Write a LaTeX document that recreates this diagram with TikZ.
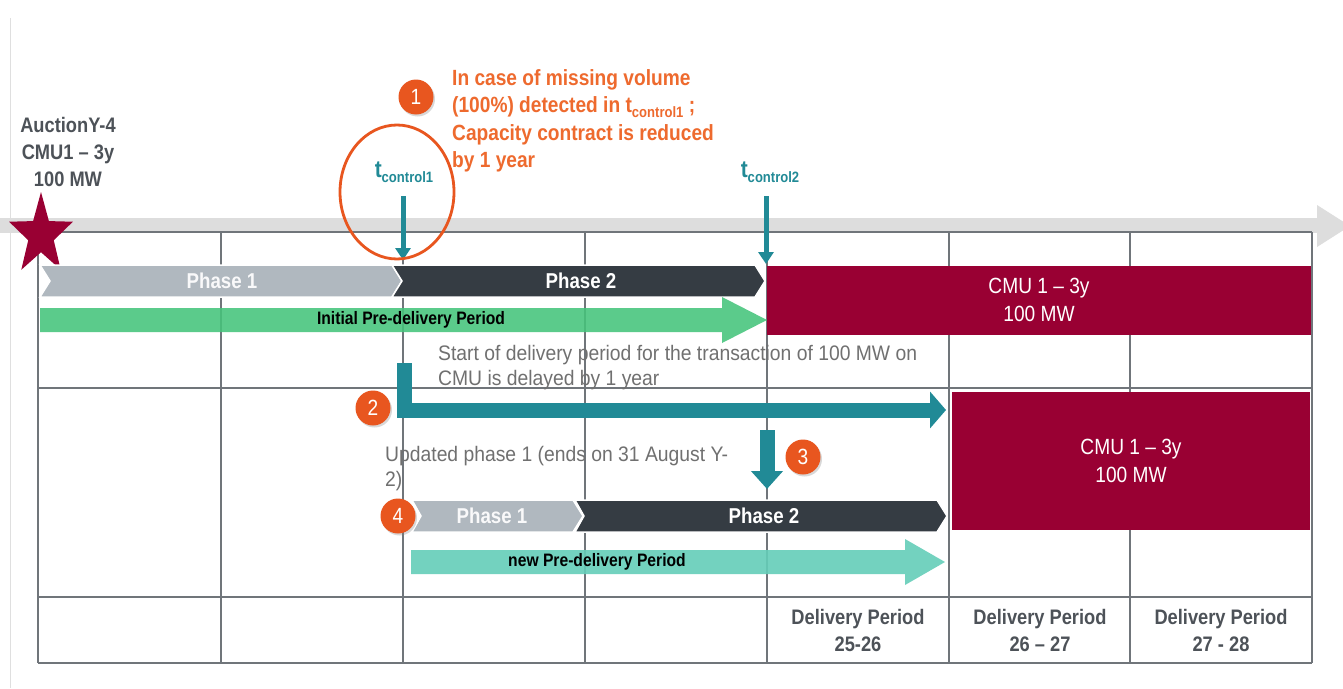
\documentclass[tikz,border=0pt]{standalone}
\usepackage{fontspec}
\setmainfont{Liberation Sans}[FakeStretch=0.87]
\newfontfamily\notefont{Liberation Sans}[FakeStretch=0.92]
\usetikzlibrary{arrows.meta,shapes.geometric,shadows}
\definecolor{cmured}{HTML}{990033}
\definecolor{tealc}{HTML}{218A96}
\definecolor{badgec}{HTML}{E8561F}
\definecolor{orangetxt}{HTML}{EE6A2E}
\definecolor{darkchev}{HTML}{353C43}
\definecolor{lightchev}{HTML}{B0B8BF}
\definecolor{greenc}{HTML}{45C47B}
\definecolor{mintc}{HTML}{64CEB9}
\definecolor{gridc}{HTML}{70757A}
\definecolor{timec}{HTML}{DDDDDD}
\definecolor{darktxt}{HTML}{4D5258}
\definecolor{graytxt}{HTML}{707070}
\newcommand\myfs[2]{\fontsize{#1}{#2}\selectfont}
\newcommand\mysub[1]{\raisebox{-5pt}{\myfs{15}{15}#1}}
\tikzset{
  gridline/.style={draw=gridc, line width=1.6},
  badge/.style={circle, fill=badgec, text=white, minimum size=35, inner sep=0,
    font=\myfs{22}{22}, drop shadow={opacity=0.3, shadow xshift=1.5pt, shadow yshift=-2pt}},
  tlabel/.style={text=tealc, font=\myfs{24}{24}\bfseries, inner sep=0},
  tarrow/.style={draw=tealc, line width=5, -{Triangle[width=15pt,length=12pt]}},
  bigarrow/.style={draw=tealc, line width=15, -{Triangle[width=36pt,length=16pt]}},
  cmubox/.style={fill=cmured, text=white, font=\myfs{22}{28}, align=center, inner sep=0},
  phasetext/.style={font=\myfs{21.5}{21.5}\bfseries, inner sep=0},
  chevdark/.style={fill=darkchev, draw=white, line width=1.5},
  chevlight/.style={fill=lightchev, draw=white, line width=1.5},
  bartext/.style={font=\myfs{18}{18}\bfseries, text=black, inner sep=0},
  notetext/.style={font=\notefont\myfs{21}{25}, text=graytxt, align=left, inner sep=0},
  deltext/.style={font=\myfs{21}{27}\bfseries, text=darktxt, align=center, inner sep=0},
}
\begin{document}
\begin{tikzpicture}[x=1pt,y=-1pt]
\useasboundingbox (0,0) rectangle (1343,688);
\fill[white] (0,0) rectangle (1343,688);
% faint left line
\draw[gray!25, line width=1] (10,18) -- (10,688);
% timeline
\fill[timec] (0,218) rectangle (1318,233);
\fill[timec] (1317,205) -- (1350,226) -- (1317,247) -- cycle;
% grid
\foreach \x in {38,221,403,585,767,949,1130,1312}
  \draw[gridline] (\x,232) -- (\x,663);
\foreach \y in {232,388,597,663}
  \draw[gridline] (38,\y) -- (1312,\y);
% star
\node[star, star points=5, star point ratio=2.5, fill=cmured, minimum size=86, inner sep=0, xscale=0.78, transform shape] (star) at (41,235) {};
\node[font=\myfs{21}{27}\bfseries, text=darktxt, align=center, inner sep=0] (auction) at (68,152) {AuctionY-4\\CMU1 -- 3y\\100 MW};
% top chevrons
\filldraw[chevlight] (40,265) -- (392,265) -- (402,281) -- (392,297) -- (40,297) -- (50,281) -- cycle;
\filldraw[chevdark] (392,265) -- (755,265) -- (765,281) -- (755,297) -- (392,297) -- (402,281) -- cycle;
\node[phasetext, text=white!92!lightchev] (p1a) at (222,281) {Phase 1};
\node[phasetext, text=white] (p2a) at (581,281) {Phase 2};
% green arrow
\fill[greenc, fill opacity=0.88] (40,308) -- (722,308) -- (722,297) -- (767,320) -- (722,343) -- (722,332) -- (40,332) -- cycle;
\node[bartext] (initp) at (411,320) {Initial Pre-delivery Period};
% CMU box 1
\node[cmubox, minimum width=544, minimum height=69] (cmu1) at (1039,300) {CMU 1 -- 3y\\100 MW};
% t control
\node[tlabel] (tc1) at (404,172) {t\mysub{control1}};
\node[tlabel] (tc2) at (770,172) {t\mysub{control2}};
\coordinate (tc1end) at (403,260);
\coordinate (tc2end) at (766,264);
\draw[tarrow] (403,196) -- (tc1end);
\draw[tarrow] (766,196) -- (tc2end);
% orange circle and note
\draw[badgec, line width=2.8] (397,192) ellipse [x radius=57, y radius=67];
\node[badge] (b1) at (416,97) {1};
\node[font=\myfs{22}{27.5}\bfseries, text=orangetxt, align=left, inner sep=0, anchor=west] (note1) at (452,121)
  {In case of missing volume\\(100\%) detected in t\mysub{control1} ;\\Capacity contract is reduced\\by 1 year};
% delayed text
\node[notetext, anchor=west] (note2) at (438,368) {Start of delivery period for the transaction of 100 MW on\\CMU is delayed by 1 year};
% arrow 2
\coordinate (a2start) at (404.5,363);
\coordinate (a2end) at (946,410);
\draw[bigarrow] (a2start) |- (a2end);
\node[badge] (b2) at (373,408) {2};
% CMU box 2
\node[cmubox, minimum width=358, minimum height=138] (cmu2) at (1131,461) {CMU 1 -- 3y\\100 MW};
% arrow 3
\coordinate (a3start) at (767,430);
\coordinate (a3end) at (767,489);
\draw[draw=tealc, line width=15, -{Triangle[width=31pt,length=18pt]}] (a3start) -- (a3end);
\node[badge] (b3) at (803,457) {3};
% updated phase text
\node[notetext, anchor=west] (note3) at (385,469) {Updated phase 1 (ends on 31 August Y-\\2)};
% lower chevrons
\filldraw[chevlight] (412,500) -- (573,500) -- (583,516) -- (573,532) -- (412,532) -- (421,516) -- cycle;
\filldraw[chevdark] (575,500) -- (937,500) -- (947,516) -- (937,532) -- (575,532) -- (584,516) -- cycle;
\node[phasetext, text=white!92!lightchev] (p1b) at (492,516) {Phase 1};
\node[phasetext, text=white] (p2b) at (764,516) {Phase 2};
\node[badge] (b4) at (398,516) {4};
% mint arrow
\fill[mintc, fill opacity=0.9] (411,550) -- (905,550) -- (905,539) -- (945,562) -- (905,585) -- (905,574) -- (411,574) -- cycle;
\node[bartext] (newp) at (597,562) {new Pre-delivery Period};
% delivery periods
\node[deltext] (d1) at (858,630) {Delivery Period\\25-26};
\node[deltext] (d2) at (1040,630) {Delivery Period\\26 -- 27};
\node[deltext] (d3) at (1221,630) {Delivery Period\\27 - 28};
\end{tikzpicture}
\end{document}
